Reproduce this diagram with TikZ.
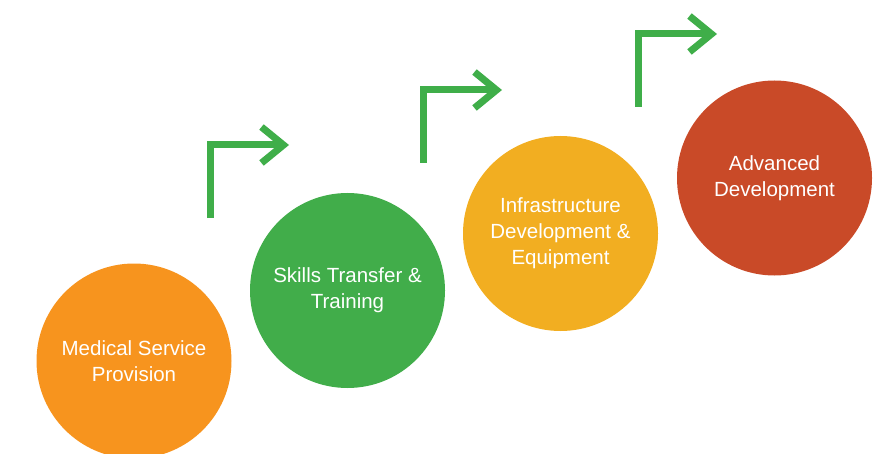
\documentclass[tikz,border=0pt]{standalone}
\usepackage{fontspec}
\setmainfont{Liberation Sans}
\usetikzlibrary{arrows.meta}
\definecolor{arancio}{HTML}{F7941E}
\definecolor{verde}{HTML}{41AD4A}
\definecolor{giallo}{HTML}{F2AE21}
\definecolor{rosso}{HTML}{C94A28}
\definecolor{verdefreccia}{HTML}{3FAE49}

\begin{document}
\begin{tikzpicture}[x=1pt,y=-1pt,
    cerchio/.style={circle, minimum size=195pt, inner sep=0pt, text=white,
        align=center, font=\fontsize{20.5}{26}\selectfont},
    freccia/.style={draw=verdefreccia, line width=7pt, line join=miter,
        -{Straight Barb[sharp,length=22pt,width=36pt,line width=7pt]}}]
    % Fissa i margini della figura
    \useasboundingbox (0,0) rectangle (890,454);
    \clip (0,0) rectangle (890,454);

    % Disegna i quattro cerchi
    \node[cerchio, fill=arancio] (medical) at (134,361) {Medical Service\\Provision};
    \node[cerchio, fill=verde] (skills) at (347.5,290.5) {Skills Transfer \&\\Training};
    \node[cerchio, fill=giallo] (infra) at (560.5,233.5) {Infrastructure\\Development \&\\Equipment};
    \node[cerchio, fill=rosso] (advanced) at (774.5,178) {Advanced\\Development};

    % Punti delle frecce
    \coordinate (f1a) at (210.5,218);
    \coordinate (f1b) at (289,145);
    \coordinate (f2a) at (423,163);
    \coordinate (f2b) at (502,90);
    \coordinate (f3a) at (638,107);
    \coordinate (f3b) at (717,34);

    % Disegna le frecce piegate
    \draw[freccia] (f1a) |- (f1b);
    \draw[freccia] (f2a) |- (f2b);
    \draw[freccia] (f3a) |- (f3b);
\end{tikzpicture}
\end{document}
